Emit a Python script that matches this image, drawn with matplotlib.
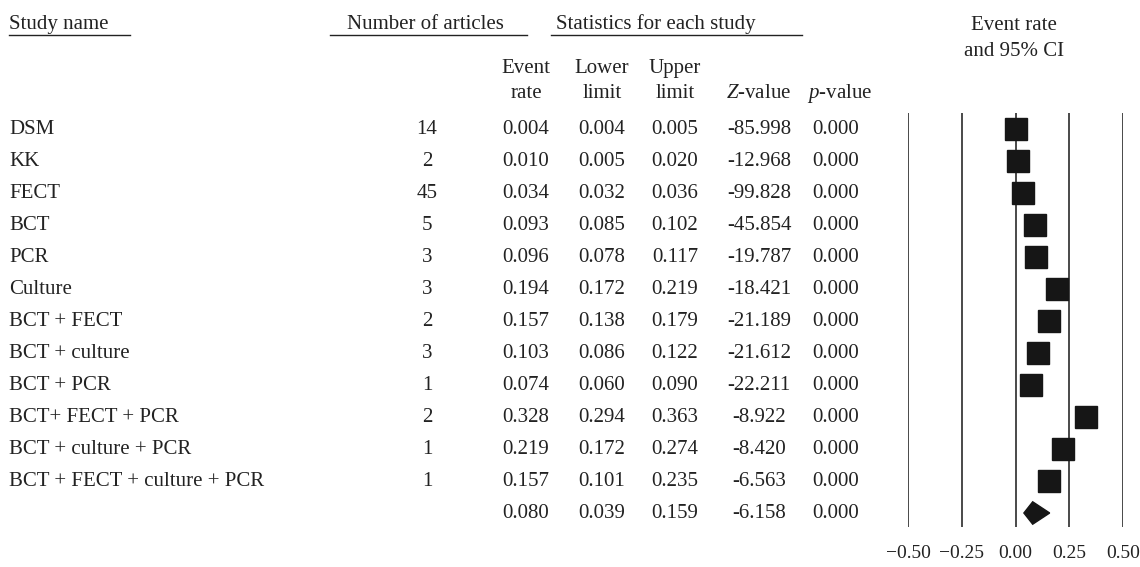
import matplotlib
matplotlib.use('Agg')
import matplotlib.pyplot as plt
from matplotlib.patches import Polygon

plt.rcParams['font.family'] = ['Liberation Serif', 'DejaVu Serif']
plt.rcParams['mathtext.fontset'] = 'custom'
plt.rcParams['mathtext.rm'] = 'Liberation Serif'
plt.rcParams['mathtext.it'] = 'Liberation Serif:italic'

# Data
studies = ['DSM', 'KK', 'FECT', 'BCT', 'PCR', 'Culture', 'BCT + FECT',
           'BCT + culture', 'BCT + PCR', 'BCT+ FECT + PCR',
           'BCT + culture + PCR', 'BCT + FECT + culture + PCR']
n_articles = [14, 2, 45, 5, 3, 3, 2, 3, 1, 2, 1, 1]
event_rate = [0.004, 0.010, 0.034, 0.093, 0.096, 0.194, 0.157, 0.103, 0.074,
              0.328, 0.219, 0.157]
lower = [0.004, 0.005, 0.032, 0.085, 0.078, 0.172, 0.138, 0.086, 0.060,
         0.294, 0.172, 0.101]
upper = [0.005, 0.020, 0.036, 0.102, 0.117, 0.219, 0.179, 0.122, 0.090,
         0.363, 0.274, 0.235]
z_value = [-85.998, -12.968, -99.828, -45.854, -19.787, -18.421, -21.189,
           -21.612, -22.211, -8.922, -8.420, -6.563]
p_value = [0.000] * 12

# pooled estimate
pooled = {'rate': 0.080, 'lower': 0.039, 'upper': 0.159, 'z': -6.158, 'p': 0.000}

xticks = [-0.50, -0.25, 0.00, 0.25, 0.50]
xtick_labels = ['\u22120.50', '\u22120.25', '0.00', '0.25', '0.50']

W, H = 1140, 567
fig = plt.figure(figsize=(W / 100, H / 100), dpi=100)

# table area in pixel coordinates
tab = fig.add_axes([0, 0, 1, 1])
tab.set_xlim(0, W)
tab.set_ylim(H, 0)
tab.axis('off')

fs = 15
ink = '#222222'

row_y0 = 129
row_dy = 32

# header
tab.text(9, 29, 'Study name', fontsize=fs, color=ink, va='baseline')
tab.plot([9, 130], [35, 35], color=ink, lw=1)
tab.text(425, 29, 'Number of articles', fontsize=fs, color=ink, va='baseline', ha='center')
tab.plot([330, 527], [35, 35], color=ink, lw=1)
tab.text(656, 29, 'Statistics for each study', fontsize=fs, color=ink, va='baseline', ha='center')
tab.plot([551, 802], [35, 35], color=ink, lw=1)
tab.text(1014, 30, 'Event rate', fontsize=fs, color=ink, va='baseline', ha='center')
tab.text(1014, 56, 'and 95% CI', fontsize=fs, color=ink, va='baseline', ha='center')

num_x = 427
col_x = [526, 602, 675, 759, 836]
tab.text(col_x[0], 73, 'Event', fontsize=fs, color=ink, va='baseline', ha='center')
tab.text(col_x[0], 98, 'rate', fontsize=fs, color=ink, va='baseline', ha='center')
tab.text(col_x[1], 73, 'Lower', fontsize=fs, color=ink, va='baseline', ha='center')
tab.text(col_x[1], 98, 'limit', fontsize=fs, color=ink, va='baseline', ha='center')
tab.text(col_x[2], 73, 'Upper', fontsize=fs, color=ink, va='baseline', ha='center')
tab.text(col_x[2], 98, 'limit', fontsize=fs, color=ink, va='baseline', ha='center')
tab.text(col_x[3], 98, '$\\mathit{Z}$-value', fontsize=fs, color=ink, va='baseline', ha='center')
tab.text(col_x[4] + 4, 98, '$\\mathit{p}$-value', fontsize=fs, color=ink, va='baseline', ha='center')

for i, name in enumerate(studies):
    y = row_y0 + i * row_dy
    tab.text(9, y, name, fontsize=fs, color=ink, va='center')
    tab.text(num_x, y, str(n_articles[i]), fontsize=fs, color=ink, va='center', ha='center')
    vals = ['%.3f' % event_rate[i], '%.3f' % lower[i], '%.3f' % upper[i],
            '%.3f' % z_value[i], '%.3f' % p_value[i]]
    for x, v in zip(col_x, vals):
        tab.text(x, y, v, fontsize=fs, color=ink, va='center', ha='center')

y = row_y0 + len(studies) * row_dy
vals = ['%.3f' % pooled['rate'], '%.3f' % pooled['lower'], '%.3f' % pooled['upper'],
        '%.3f' % pooled['z'], '%.3f' % pooled['p']]
for x, v in zip(col_x, vals):
    tab.text(x, y, v, fontsize=fs, color=ink, va='center', ha='center')

# forest plot axes: -0.5 at x=908px, 0.5 at x=1123px; lines from 113px to 527px
top_px, bot_px = 113, 527
ax = fig.add_axes([908 / W, 1 - bot_px / H, 215 / W, (bot_px - top_px) / H])
ax.set_xlim(-0.5, 0.5)
ax.set_ylim((bot_px - row_y0) / row_dy, (top_px - row_y0) / row_dy)
for s in ax.spines.values():
    s.set_visible(False)
ax.set_yticks([])
for xv in xticks:
    ax.axvline(xv, color='#2a2a2a', lw=1.2, zorder=1)

ax.plot(event_rate, range(len(studies)), 's', color='#161616', ms=16.5,
        mec='#161616', zorder=3, clip_on=False)

r = len(studies)
dh = 0.35
diamond = Polygon([(pooled['lower'], r), (pooled['rate'], r - dh),
                   (pooled['upper'], r), (pooled['rate'], r + dh)],
                  closed=True, color='#161616', zorder=3)
ax.add_patch(diamond)

ax.set_xticks(xticks)
ax.set_xticklabels(xtick_labels, fontsize=14, color=ink)
ax.tick_params(axis='x', length=0, pad=13)

fig.savefig('out.png', dpi=100)
